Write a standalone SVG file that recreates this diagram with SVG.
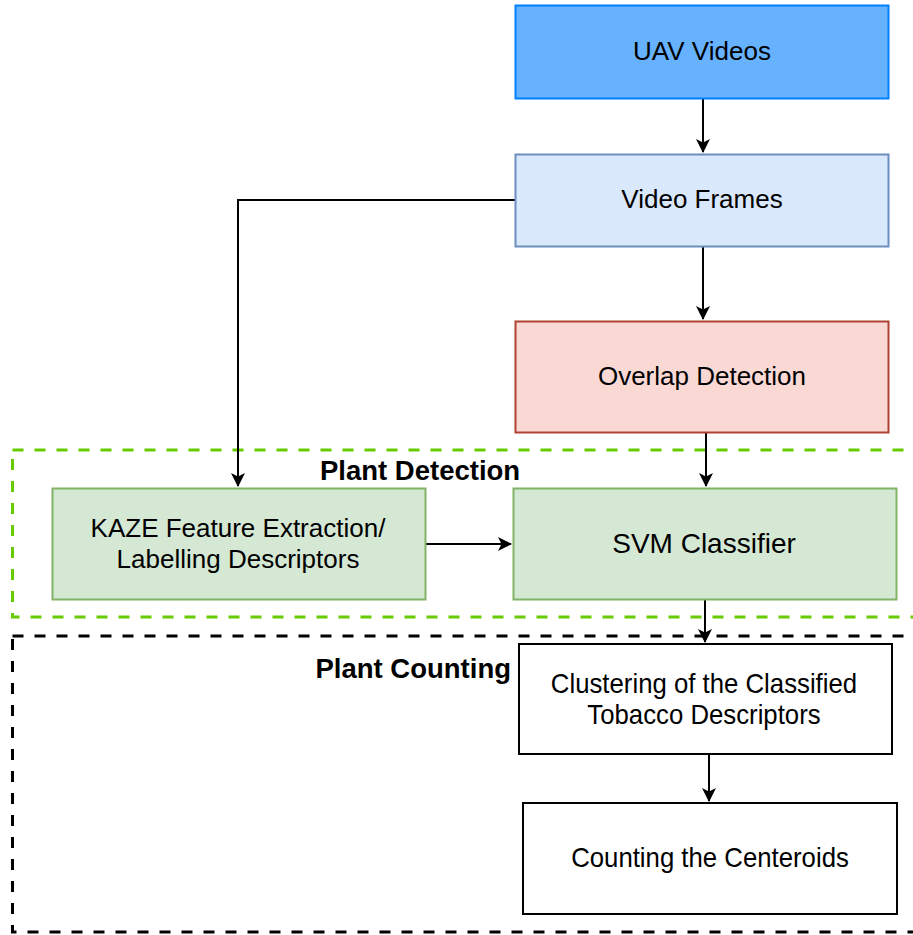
<svg xmlns="http://www.w3.org/2000/svg" width="913" height="935" viewBox="0 0 913 935">
  <style>
    .lbl { font-family: "Liberation Sans", Arial, sans-serif; font-size: 26px; fill: #000; text-anchor: middle; }
    .big { font-size: 28px; }
    .title { font-family: "Liberation Sans", Arial, sans-serif; font-size: 27.5px; font-weight: bold; fill: #000; }
    .edge { fill: none; stroke: #000; stroke-width: 2; }
    .frame { fill: none; stroke-width: 3; stroke-dasharray: 11 11; }
  </style>
  <defs>
    <marker id="arrow" viewBox="0 0 14 14" refX="13" refY="7" markerWidth="14" markerHeight="14" markerUnits="userSpaceOnUse" orient="auto">
      <path d="M0,0 L14,7 L0,14 L3.5,7 Z" fill="#000"/>
    </marker>
  </defs>
  <rect width="913" height="935" fill="#fff"/>

  <!-- group containers -->
  <g id="plant-detection">
    <rect class="frame" x="12.5" y="450" width="910" height="167" stroke="#66CC00"/>
    <text class="title" x="320" y="480">Plant Detection</text>
  </g>
  <g id="plant-counting">
    <rect class="frame" x="12.5" y="636" width="910" height="296" stroke="#000"/>
    <text class="title" x="511" y="678" text-anchor="end">Plant Counting</text>
  </g>

  <!-- connectors -->
  <g id="connectors">
    <path class="edge" d="M703,98 V152" marker-end="url(#arrow)"/>
    <path class="edge" d="M703,246 V319" marker-end="url(#arrow)"/>
    <path class="edge" d="M515,200 H238 V486" marker-end="url(#arrow)"/>
    <path class="edge" d="M706,432 V486" marker-end="url(#arrow)"/>
    <path class="edge" d="M426,544 H511" marker-end="url(#arrow)"/>
    <path class="edge" d="M705,599 V642" marker-end="url(#arrow)"/>
    <path class="edge" d="M709,754 V801" marker-end="url(#arrow)"/>
  </g>

  <!-- nodes -->
  <g id="uav-videos">
    <rect x="515.5" y="5.5" width="373" height="93" fill="#66B2FF" stroke="#007FFF" stroke-width="2"/>
    <text class="lbl" x="702" y="60">UAV Videos</text>
  </g>
  <g id="video-frames">
    <rect x="515.5" y="154.5" width="373" height="92" fill="#DAE8FC" stroke="#6C8EBF" stroke-width="2"/>
    <text class="lbl" x="702" y="208">Video Frames</text>
  </g>
  <g id="overlap-detection">
    <rect x="515.5" y="321.5" width="373" height="111" fill="#FAD9D5" stroke="#AE4132" stroke-width="2"/>
    <text class="lbl" x="702" y="385">Overlap Detection</text>
  </g>
  <g id="kaze">
    <rect x="52.5" y="488.5" width="373" height="111" fill="#D5E8D4" stroke="#82B366" stroke-width="2"/>
    <text class="lbl" x="238" y="537">KAZE Feature Extraction/</text>
    <text class="lbl" x="238" y="568">Labelling Descriptors</text>
  </g>
  <g id="svm-classifier">
    <rect x="513.5" y="488.5" width="383" height="111" fill="#D5E8D4" stroke="#82B366" stroke-width="2"/>
    <text class="lbl big" x="704" y="553">SVM Classifier</text>
  </g>
  <g id="clustering">
    <rect x="519" y="644" width="373" height="110" fill="#fff" stroke="#000" stroke-width="2"/>
    <g transform="translate(704 0) scale(0.92 1) translate(-704 0)">
      <text class="lbl" x="704" y="693" style="font-size:28px">Clustering of the Classified</text>
      <text class="lbl" x="704" y="724" style="font-size:28px">Tobacco Descriptors</text>
    </g>
  </g>
  <g id="counting">
    <rect x="523" y="803" width="374" height="111" fill="#fff" stroke="#000" stroke-width="2"/>
    <g transform="translate(710 0) scale(0.92 1) translate(-710 0)">
      <text class="lbl" x="710" y="867" style="font-size:28px">Counting the Centeroids</text>
    </g>
  </g>
</svg>
